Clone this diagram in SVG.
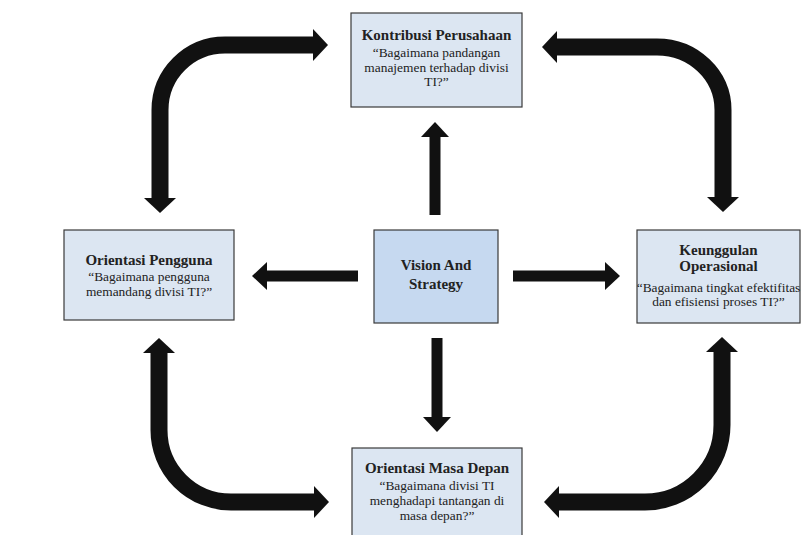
<svg xmlns="http://www.w3.org/2000/svg" width="802" height="535" viewBox="0 0 802 535">
<defs>
<style>
.box{fill:#dce6f2;stroke:#3a3a3a;stroke-width:1.2}
.core{fill:#c6d9f0;stroke:#3a3a3a;stroke-width:1.2}
text{font-family:"Liberation Serif","Times New Roman",serif;fill:#222;text-anchor:middle}
.t{font-size:15px;font-weight:bold}
.b{font-size:13.4px}
.s{fill:none;stroke:#111;stroke-width:11}
.c{fill:none;stroke:#111;stroke-width:17}
</style>
<marker id="hs" markerUnits="userSpaceOnUse" markerWidth="16" markerHeight="28" viewBox="0 0 16 28" refX="1" refY="14" orient="auto-start-reverse">
<path d="M0,0 L15,14 L0,28 Z" fill="#111"/>
</marker>
<marker id="hl" markerUnits="userSpaceOnUse" markerWidth="16" markerHeight="32" viewBox="0 0 16 32" refX="1" refY="16" orient="auto-start-reverse">
<path d="M0,0 L15,16 L0,32 Z" fill="#111"/>
</marker>
</defs>
<rect width="802" height="535" fill="#fff"/>

<g id="connectors">
<path class="s" d="M435,215 V136" marker-end="url(#hs)"/>
<path class="s" d="M358,276 H266" marker-end="url(#hs)"/>
<path class="s" d="M513,276 H606" marker-end="url(#hs)"/>
<path class="s" d="M437,338 V418" marker-end="url(#hs)"/>
<path class="c" d="M160,199 V110 A65,65 0 0 1 225,45 H314" marker-start="url(#hl)" marker-end="url(#hl)"/>
<path class="c" d="M556,47 H657 A66,63 0 0 1 723,110 V198" marker-start="url(#hl)" marker-end="url(#hl)"/>
<path class="c" d="M159,352 V430 A72,72 0 0 0 231,502 H315" marker-start="url(#hl)" marker-end="url(#hl)"/>
<path class="c" d="M722,351 V425 A77,77 0 0 1 645,502 H558" marker-start="url(#hl)" marker-end="url(#hl)"/>
</g>

<g id="kontribusi">
<rect class="box" x="351" y="13" width="171" height="94"/>
<text class="t" x="436.5" y="40">Kontribusi Perusahaan</text>
<text class="b" x="436.5" y="57">“Bagaimana pandangan</text>
<text class="b" x="436.5" y="72">manajemen terhadap divisi</text>
<text class="b" x="436.5" y="86">TI?”</text>
</g>

<g id="pengguna">
<rect class="box" x="64" y="230" width="170" height="90"/>
<text class="t" x="149" y="265">Orientasi Pengguna</text>
<text class="b" x="149" y="281">“Bagaimana pengguna</text>
<text class="b" x="149" y="296">memandang divisi TI?”</text>
</g>

<g id="vision">
<rect class="core" x="374" y="230" width="124" height="93"/>
<text class="t" x="436" y="270">Vision And</text>
<text class="t" x="436" y="289">Strategy</text>
</g>

<g id="operasional">
<rect class="box" x="637" y="230" width="163" height="93"/>
<text class="t" x="718.5" y="255">Keunggulan</text>
<text class="t" x="718.5" y="271">Operasional</text>
<text class="b" x="718.5" y="292">“Bagaimana tingkat efektifitas</text>
<text class="b" x="718.5" y="306">dan efisiensi proses TI?”</text>
</g>

<g id="masadepan">
<rect class="box" x="352" y="448" width="170" height="95"/>
<text class="t" x="437" y="473">Orientasi Masa Depan</text>
<text class="b" x="437" y="490">“Bagaimana divisi TI</text>
<text class="b" x="437" y="505">menghadapi tantangan di</text>
<text class="b" x="437" y="520">masa depan?”</text>
</g>
</svg>
